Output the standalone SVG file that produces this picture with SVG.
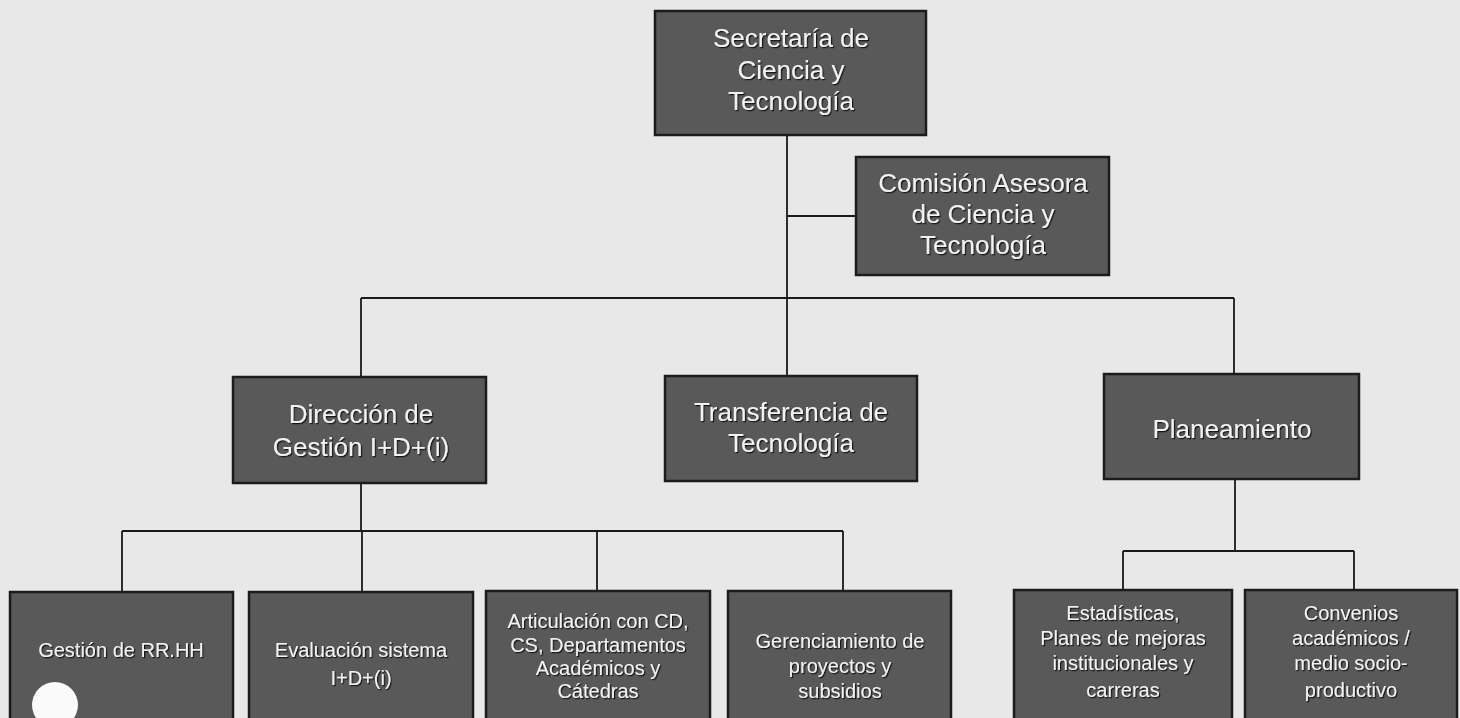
<svg xmlns="http://www.w3.org/2000/svg" width="1460" height="718" viewBox="0 0 1460 718">
<defs>
<filter id="sh" x="-10%" y="-10%" width="120%" height="130%">
<feDropShadow dx="1.2" dy="1.2" stdDeviation="0.6" flood-color="#111" flood-opacity="0.9"/>
</filter>
<style>
.box{fill:#595959;stroke:#1c1c1c;stroke-width:2.5}
.t{font-family:"Liberation Sans",Arial,sans-serif;fill:#f2f2f2;text-anchor:middle;filter:url(#sh)}
.l{font-size:26px}
.s{font-size:20px}
.c{fill:none;stroke:#1a1a1a;stroke-width:1.8}
</style>
</defs>
<rect width="1460" height="718" fill="#e8e8e8"/>
<g id="connectors" class="c">
<path d="M787 135V298M787 216H856M361 298H1234M361 298V376M787 298V376M1234 298V374"/>
<path d="M361 483V531M122 531H843M122 531V592M362 531V592M597 531V591M843 531V591"/>
<path d="M1235 479V551M1123 551H1354M1123 551V590M1354 551V590"/>
</g>
<g id="secretaria">
<rect class="box" x="655" y="11" width="271" height="124"/>
<text class="t l" x="791" y="47">Secretaría de</text>
<text class="t l" x="791" y="79">Ciencia y</text>
<text class="t l" x="791" y="110">Tecnología</text>
</g>
<g id="comision">
<rect class="box" x="856" y="157" width="253" height="118"/>
<text class="t l" x="983" y="192">Comisión Asesora</text>
<text class="t l" x="983" y="223">de Ciencia y</text>
<text class="t l" x="983" y="254">Tecnología</text>
</g>
<g id="direccion">
<rect class="box" x="233" y="377" width="253" height="106"/>
<text class="t l" x="361" y="423">Dirección de</text>
<text class="t l" x="361" y="456">Gestión I+D+(i)</text>
</g>
<g id="transferencia">
<rect class="box" x="665" y="376" width="252" height="105"/>
<text class="t l" x="791" y="421">Transferencia de</text>
<text class="t l" x="791" y="452">Tecnología</text>
</g>
<g id="planeamiento">
<rect class="box" x="1104" y="374" width="255" height="105"/>
<text class="t l" x="1232" y="438">Planeamiento</text>
</g>
<g id="rrhh">
<rect class="box" x="10" y="592" width="223" height="130"/>
<text class="t s" x="121" y="657">Gestión de RR.HH</text>
</g>
<g id="evaluacion">
<rect class="box" x="249" y="592" width="224" height="130"/>
<text class="t s" x="361" y="657">Evaluación sistema</text>
<text class="t s" x="361" y="685">I+D+(i)</text>
</g>
<g id="articulacion">
<rect class="box" x="486" y="591" width="224" height="131"/>
<text class="t s" x="598" y="628">Articulación con CD,</text>
<text class="t s" x="598" y="652">CS, Departamentos</text>
<text class="t s" x="598" y="675">Académicos y</text>
<text class="t s" x="598" y="698">Cátedras</text>
</g>
<g id="gerenciamiento">
<rect class="box" x="728" y="591" width="223" height="131"/>
<text class="t s" x="840" y="648">Gerenciamiento de</text>
<text class="t s" x="840" y="673">proyectos y</text>
<text class="t s" x="840" y="698">subsidios</text>
</g>
<g id="estadisticas">
<rect class="box" x="1014" y="590" width="218" height="132"/>
<text class="t s" x="1123" y="620">Estadísticas,</text>
<text class="t s" x="1123" y="645">Planes de mejoras</text>
<text class="t s" x="1123" y="670">institucionales y</text>
<text class="t s" x="1123" y="697">carreras</text>
</g>
<g id="convenios">
<rect class="box" x="1245" y="590" width="212" height="132"/>
<text class="t s" x="1351" y="620">Convenios</text>
<text class="t s" x="1351" y="645">académicos /</text>
<text class="t s" x="1351" y="670">medio socio-</text>
<text class="t s" x="1351" y="697">productivo</text>
</g>
<circle cx="55" cy="705" r="23" fill="#fafafa"/>
</svg>
